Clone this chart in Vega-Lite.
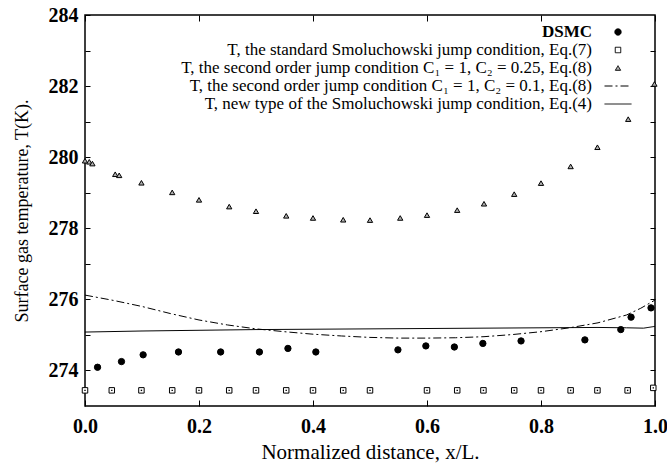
{
  "$schema": "https://vega.github.io/schema/vega-lite/v6.json",
  "width": 570,
  "height": 391,
  "autosize": {"type": "none"},
  "padding": {"left": 85, "top": 15, "right": 12, "bottom": 60},
  "background": "white",
  "config": {
    "view": {"stroke": "black", "strokeWidth": 1.5},
    "font": "Liberation Serif",
    "axis": {"domain": false, "grid": false, "tickColor": "black", "tickWidth": 1, "labelColor": "black", "titleColor": "black", "labelFont": "Liberation Serif", "titleFont": "Liberation Serif", "labelFlush": false},
    "legend": {
      "orient": "none", "legendX": 524.5, "legendY": 8.5,
      "labelAlign": "right", "labelOffset": -34.5, "symbolOffset": 0,
      "labelFont": "Liberation Serif", "labelFontSize": 17, "labelColor": "black", "labelLimit": 0,
      "rowPadding": 0, "padding": 0, "columns": 1, "gridAlign": "none",
      "symbolStrokeColor": "black", "symbolStrokeWidth": 1
    }
  },
  "datasets": {
    "pts": [
      {"series": "DSMC", "x": 0.022, "T": 274.09},
      {"series": "DSMC", "x": 0.064, "T": 274.25},
      {"series": "DSMC", "x": 0.102, "T": 274.44},
      {"series": "DSMC", "x": 0.164, "T": 274.52},
      {"series": "DSMC", "x": 0.238, "T": 274.52},
      {"series": "DSMC", "x": 0.306, "T": 274.52},
      {"series": "DSMC", "x": 0.356, "T": 274.62},
      {"series": "DSMC", "x": 0.405, "T": 274.52},
      {"series": "DSMC", "x": 0.549, "T": 274.58},
      {"series": "DSMC", "x": 0.598, "T": 274.69},
      {"series": "DSMC", "x": 0.648, "T": 274.66},
      {"series": "DSMC", "x": 0.698, "T": 274.76},
      {"series": "DSMC", "x": 0.765, "T": 274.83},
      {"series": "DSMC", "x": 0.877, "T": 274.86},
      {"series": "DSMC", "x": 0.940, "T": 275.15},
      {"series": "DSMC", "x": 0.958, "T": 275.50},
      {"series": "DSMC", "x": 0.993, "T": 275.76},
      {"series": "T, the standard Smoluchowski jump condition, Eq.(7)", "x": 0.0, "T": 273.44},
      {"series": "T, the standard Smoluchowski jump condition, Eq.(7)", "x": 0.047, "T": 273.44},
      {"series": "T, the standard Smoluchowski jump condition, Eq.(7)", "x": 0.099, "T": 273.44},
      {"series": "T, the standard Smoluchowski jump condition, Eq.(7)", "x": 0.153, "T": 273.44},
      {"series": "T, the standard Smoluchowski jump condition, Eq.(7)", "x": 0.2, "T": 273.44},
      {"series": "T, the standard Smoluchowski jump condition, Eq.(7)", "x": 0.253, "T": 273.44},
      {"series": "T, the standard Smoluchowski jump condition, Eq.(7)", "x": 0.3, "T": 273.44},
      {"series": "T, the standard Smoluchowski jump condition, Eq.(7)", "x": 0.353, "T": 273.44},
      {"series": "T, the standard Smoluchowski jump condition, Eq.(7)", "x": 0.4, "T": 273.44},
      {"series": "T, the standard Smoluchowski jump condition, Eq.(7)", "x": 0.453, "T": 273.44},
      {"series": "T, the standard Smoluchowski jump condition, Eq.(7)", "x": 0.5, "T": 273.44},
      {"series": "T, the standard Smoluchowski jump condition, Eq.(7)", "x": 0.6, "T": 273.44},
      {"series": "T, the standard Smoluchowski jump condition, Eq.(7)", "x": 0.653, "T": 273.44},
      {"series": "T, the standard Smoluchowski jump condition, Eq.(7)", "x": 0.699, "T": 273.44},
      {"series": "T, the standard Smoluchowski jump condition, Eq.(7)", "x": 0.753, "T": 273.44},
      {"series": "T, the standard Smoluchowski jump condition, Eq.(7)", "x": 0.8, "T": 273.44},
      {"series": "T, the standard Smoluchowski jump condition, Eq.(7)", "x": 0.852, "T": 273.44},
      {"series": "T, the standard Smoluchowski jump condition, Eq.(7)", "x": 0.899, "T": 273.44},
      {"series": "T, the standard Smoluchowski jump condition, Eq.(7)", "x": 0.952, "T": 273.44},
      {"series": "T, the standard Smoluchowski jump condition, Eq.(7)", "x": 0.997, "T": 273.51},
      {"series": "T, the second order jump condition C₁ = 1, C₂ = 0.25, Eq.(8)", "x": 0.0, "T": 279.90},
      {"series": "T, the second order jump condition C₁ = 1, C₂ = 0.25, Eq.(8)", "x": 0.0075, "T": 279.87},
      {"series": "T, the second order jump condition C₁ = 1, C₂ = 0.25, Eq.(8)", "x": 0.013, "T": 279.82},
      {"series": "T, the second order jump condition C₁ = 1, C₂ = 0.25, Eq.(8)", "x": 0.053, "T": 279.52},
      {"series": "T, the second order jump condition C₁ = 1, C₂ = 0.25, Eq.(8)", "x": 0.060, "T": 279.49},
      {"series": "T, the second order jump condition C₁ = 1, C₂ = 0.25, Eq.(8)", "x": 0.099, "T": 279.28},
      {"series": "T, the second order jump condition C₁ = 1, C₂ = 0.25, Eq.(8)", "x": 0.153, "T": 279.01},
      {"series": "T, the second order jump condition C₁ = 1, C₂ = 0.25, Eq.(8)", "x": 0.200, "T": 278.80},
      {"series": "T, the second order jump condition C₁ = 1, C₂ = 0.25, Eq.(8)", "x": 0.253, "T": 278.61},
      {"series": "T, the second order jump condition C₁ = 1, C₂ = 0.25, Eq.(8)", "x": 0.300, "T": 278.48},
      {"series": "T, the second order jump condition C₁ = 1, C₂ = 0.25, Eq.(8)", "x": 0.353, "T": 278.35},
      {"series": "T, the second order jump condition C₁ = 1, C₂ = 0.25, Eq.(8)", "x": 0.400, "T": 278.29},
      {"series": "T, the second order jump condition C₁ = 1, C₂ = 0.25, Eq.(8)", "x": 0.453, "T": 278.24},
      {"series": "T, the second order jump condition C₁ = 1, C₂ = 0.25, Eq.(8)", "x": 0.500, "T": 278.23},
      {"series": "T, the second order jump condition C₁ = 1, C₂ = 0.25, Eq.(8)", "x": 0.553, "T": 278.29},
      {"series": "T, the second order jump condition C₁ = 1, C₂ = 0.25, Eq.(8)", "x": 0.600, "T": 278.37},
      {"series": "T, the second order jump condition C₁ = 1, C₂ = 0.25, Eq.(8)", "x": 0.653, "T": 278.51},
      {"series": "T, the second order jump condition C₁ = 1, C₂ = 0.25, Eq.(8)", "x": 0.700, "T": 278.69},
      {"series": "T, the second order jump condition C₁ = 1, C₂ = 0.25, Eq.(8)", "x": 0.753, "T": 278.96},
      {"series": "T, the second order jump condition C₁ = 1, C₂ = 0.25, Eq.(8)", "x": 0.800, "T": 279.27},
      {"series": "T, the second order jump condition C₁ = 1, C₂ = 0.25, Eq.(8)", "x": 0.852, "T": 279.74},
      {"series": "T, the second order jump condition C₁ = 1, C₂ = 0.25, Eq.(8)", "x": 0.899, "T": 280.28},
      {"series": "T, the second order jump condition C₁ = 1, C₂ = 0.25, Eq.(8)", "x": 0.953, "T": 281.07},
      {"series": "T, the second order jump condition C₁ = 1, C₂ = 0.25, Eq.(8)", "x": 0.999, "T": 282.06}
    ],
    "lines": [
      {"series": "T, the second order jump condition C₁ = 1, C₂ = 0.1, Eq.(8)", "x": 0.0, "T": 276.12},
      {"series": "T, the second order jump condition C₁ = 1, C₂ = 0.1, Eq.(8)", "x": 0.05, "T": 275.97},
      {"series": "T, the second order jump condition C₁ = 1, C₂ = 0.1, Eq.(8)", "x": 0.1, "T": 275.80},
      {"series": "T, the second order jump condition C₁ = 1, C₂ = 0.1, Eq.(8)", "x": 0.15, "T": 275.60},
      {"series": "T, the second order jump condition C₁ = 1, C₂ = 0.1, Eq.(8)", "x": 0.2, "T": 275.42},
      {"series": "T, the second order jump condition C₁ = 1, C₂ = 0.1, Eq.(8)", "x": 0.25, "T": 275.28},
      {"series": "T, the second order jump condition C₁ = 1, C₂ = 0.1, Eq.(8)", "x": 0.3, "T": 275.17},
      {"series": "T, the second order jump condition C₁ = 1, C₂ = 0.1, Eq.(8)", "x": 0.35, "T": 275.09},
      {"series": "T, the second order jump condition C₁ = 1, C₂ = 0.1, Eq.(8)", "x": 0.4, "T": 275.02},
      {"series": "T, the second order jump condition C₁ = 1, C₂ = 0.1, Eq.(8)", "x": 0.45, "T": 274.97},
      {"series": "T, the second order jump condition C₁ = 1, C₂ = 0.1, Eq.(8)", "x": 0.5, "T": 274.93},
      {"series": "T, the second order jump condition C₁ = 1, C₂ = 0.1, Eq.(8)", "x": 0.55, "T": 274.91},
      {"series": "T, the second order jump condition C₁ = 1, C₂ = 0.1, Eq.(8)", "x": 0.6, "T": 274.91},
      {"series": "T, the second order jump condition C₁ = 1, C₂ = 0.1, Eq.(8)", "x": 0.65, "T": 274.92},
      {"series": "T, the second order jump condition C₁ = 1, C₂ = 0.1, Eq.(8)", "x": 0.7, "T": 274.95},
      {"series": "T, the second order jump condition C₁ = 1, C₂ = 0.1, Eq.(8)", "x": 0.75, "T": 275.01},
      {"series": "T, the second order jump condition C₁ = 1, C₂ = 0.1, Eq.(8)", "x": 0.8, "T": 275.09},
      {"series": "T, the second order jump condition C₁ = 1, C₂ = 0.1, Eq.(8)", "x": 0.85, "T": 275.20},
      {"series": "T, the second order jump condition C₁ = 1, C₂ = 0.1, Eq.(8)", "x": 0.9, "T": 275.34},
      {"series": "T, the second order jump condition C₁ = 1, C₂ = 0.1, Eq.(8)", "x": 0.95, "T": 275.56},
      {"series": "T, the second order jump condition C₁ = 1, C₂ = 0.1, Eq.(8)", "x": 0.975, "T": 275.75},
      {"series": "T, the second order jump condition C₁ = 1, C₂ = 0.1, Eq.(8)", "x": 1.0, "T": 275.98},
      {"series": "T, new type of the Smoluchowski jump condition, Eq.(4)", "x": 0.0, "T": 275.08},
      {"series": "T, new type of the Smoluchowski jump condition, Eq.(4)", "x": 0.1, "T": 275.11},
      {"series": "T, new type of the Smoluchowski jump condition, Eq.(4)", "x": 0.2, "T": 275.13},
      {"series": "T, new type of the Smoluchowski jump condition, Eq.(4)", "x": 0.3, "T": 275.15},
      {"series": "T, new type of the Smoluchowski jump condition, Eq.(4)", "x": 0.4, "T": 275.16},
      {"series": "T, new type of the Smoluchowski jump condition, Eq.(4)", "x": 0.5, "T": 275.17},
      {"series": "T, new type of the Smoluchowski jump condition, Eq.(4)", "x": 0.6, "T": 275.18},
      {"series": "T, new type of the Smoluchowski jump condition, Eq.(4)", "x": 0.7, "T": 275.19},
      {"series": "T, new type of the Smoluchowski jump condition, Eq.(4)", "x": 0.8, "T": 275.20},
      {"series": "T, new type of the Smoluchowski jump condition, Eq.(4)", "x": 0.9, "T": 275.21},
      {"series": "T, new type of the Smoluchowski jump condition, Eq.(4)", "x": 0.95, "T": 275.20},
      {"series": "T, new type of the Smoluchowski jump condition, Eq.(4)", "x": 0.98, "T": 275.19},
      {"series": "T, new type of the Smoluchowski jump condition, Eq.(4)", "x": 1.0, "T": 275.24}
    ]
  },
  "layer": [
    {
      "data": {"name": "lines"},
      "mark": {"type": "line", "color": "black", "strokeWidth": 1},
      "encoding": {
        "x": {"field": "x", "type": "quantitative", "scale": {"domain": [0, 1], "nice": false, "zero": false, "padding": 0},
              "axis": {"orient": "top", "values": [0, 0.2, 0.4, 0.6, 0.8, 1], "labels": false, "title": null, "tickSize": -6}},
        "y": {"field": "T", "type": "quantitative", "scale": {"domain": [273, 284], "nice": false, "zero": false, "padding": 0},
              "axis": {"orient": "right", "values": [274, 275, 276, 277, 278, 279, 280, 281, 282, 283], "labels": false, "title": null, "tickSize": -5}},
        "strokeDash": {"field": "series", "type": "nominal",
          "scale": {"domain": ["DSMC", "T, the standard Smoluchowski jump condition, Eq.(7)", "T, the second order jump condition C₁ = 1, C₂ = 0.25, Eq.(8)", "T, the second order jump condition C₁ = 1, C₂ = 0.1, Eq.(8)", "T, new type of the Smoluchowski jump condition, Eq.(4)"],
                    "range": [[1, 0], [1, 0], [1, 0], [8, 3, 2, 3], [1, 0]]},
          "legend": {"title": null, "encode": {"symbols": {"update": {"stroke": {"value": "black"}, "strokeWidth": {"value": 1}}}, "labels": {"update": {"fontWeight": {"signal": "datum.value === 'DSMC' ? 'bold' : 'normal'"}}}}}}
      }
    },
    {
      "data": {"name": "pts"},
      "mark": {"type": "point", "filled": true, "stroke": "black", "strokeWidth": 1, "opacity": 1},
      "encoding": {
        "x": {"field": "x", "type": "quantitative", "scale": {"domain": [0, 1], "nice": false, "zero": false, "padding": 0},
              "axis": {"orient": "bottom", "values": [0, 0.2, 0.4, 0.6, 0.8, 1], "format": ".1f", "title": "Normalized distance, x/L.",
                       "tickSize": -6, "labelPadding": 16, "labelFontSize": 20, "labelFontWeight": "bold", "titleFontSize": 21, "titleFontWeight": "normal", "titlePadding": 5}},
        "y": {"field": "T", "type": "quantitative", "scale": {"domain": [273, 284], "nice": false, "zero": false, "padding": 0},
              "axis": {"orient": "left", "values": [274, 275, 276, 277, 278, 279, 280, 281, 282, 283, 284], "labelExpr": "datum.value % 2 == 0 ? datum.label : ''",
                       "title": "Surface gas temperature, T(K).", "tickSize": -5, "labelPadding": 12, "labelFontSize": 20, "labelFontWeight": "bold", "titleFontSize": 18, "titleFontWeight": "normal", "titlePadding": 17}},
        "shape": {"field": "series", "type": "nominal",
          "scale": {"domain": ["DSMC", "T, the standard Smoluchowski jump condition, Eq.(7)", "T, the second order jump condition C₁ = 1, C₂ = 0.25, Eq.(8)", "T, the second order jump condition C₁ = 1, C₂ = 0.1, Eq.(8)", "T, new type of the Smoluchowski jump condition, Eq.(4)"],
                    "range": ["circle", "square", "triangle-up", "M-3,0H3", "M-3,0H3"]},
          "legend": {"title": null, "encode": {"symbols": {"update": {"stroke": {"value": "black"}, "strokeWidth": {"value": 1}}}, "labels": {"update": {"fontWeight": {"signal": "datum.value === 'DSMC' ? 'bold' : 'normal'"}}}}}},
        "fill": {"field": "series", "type": "nominal",
          "scale": {"domain": ["DSMC", "T, the standard Smoluchowski jump condition, Eq.(7)", "T, the second order jump condition C₁ = 1, C₂ = 0.25, Eq.(8)", "T, the second order jump condition C₁ = 1, C₂ = 0.1, Eq.(8)", "T, new type of the Smoluchowski jump condition, Eq.(4)"],
                    "range": ["black", "white", "#b0b0b0", "transparent", "transparent"]},
          "legend": {"title": null, "encode": {"symbols": {"update": {"stroke": {"value": "black"}, "strokeWidth": {"value": 1}}}, "labels": {"update": {"fontWeight": {"signal": "datum.value === 'DSMC' ? 'bold' : 'normal'"}}}}}},
        "size": {"field": "series", "type": "nominal",
          "scale": {"type": "ordinal", "domain": ["DSMC", "T, the standard Smoluchowski jump condition, Eq.(7)", "T, the second order jump condition C₁ = 1, C₂ = 0.25, Eq.(8)", "T, the second order jump condition C₁ = 1, C₂ = 0.1, Eq.(8)", "T, new type of the Smoluchowski jump condition, Eq.(4)"],
                    "range": [40, 30, 28, 81, 81]},
          "legend": {"title": null, "encode": {"symbols": {"update": {"stroke": {"value": "black"}, "strokeWidth": {"value": 1}}}, "labels": {"update": {"fontWeight": {"signal": "datum.value === 'DSMC' ? 'bold' : 'normal'"}}}}}}
      }
    },
    {
      "data": {"name": "pts"},
      "transform": [{"filter": {"field": "series", "equal": "T, the standard Smoluchowski jump condition, Eq.(7)"}}],
      "mark": {"type": "square", "size": 2, "color": "black", "opacity": 1},
      "encoding": {
        "x": {"field": "x", "type": "quantitative", "scale": {"domain": [0, 1], "nice": false, "zero": false, "padding": 0}, "axis": null},
        "y": {"field": "T", "type": "quantitative", "scale": {"domain": [273, 284], "nice": false, "zero": false, "padding": 0}, "axis": null}
      }
    }
  ]
}
